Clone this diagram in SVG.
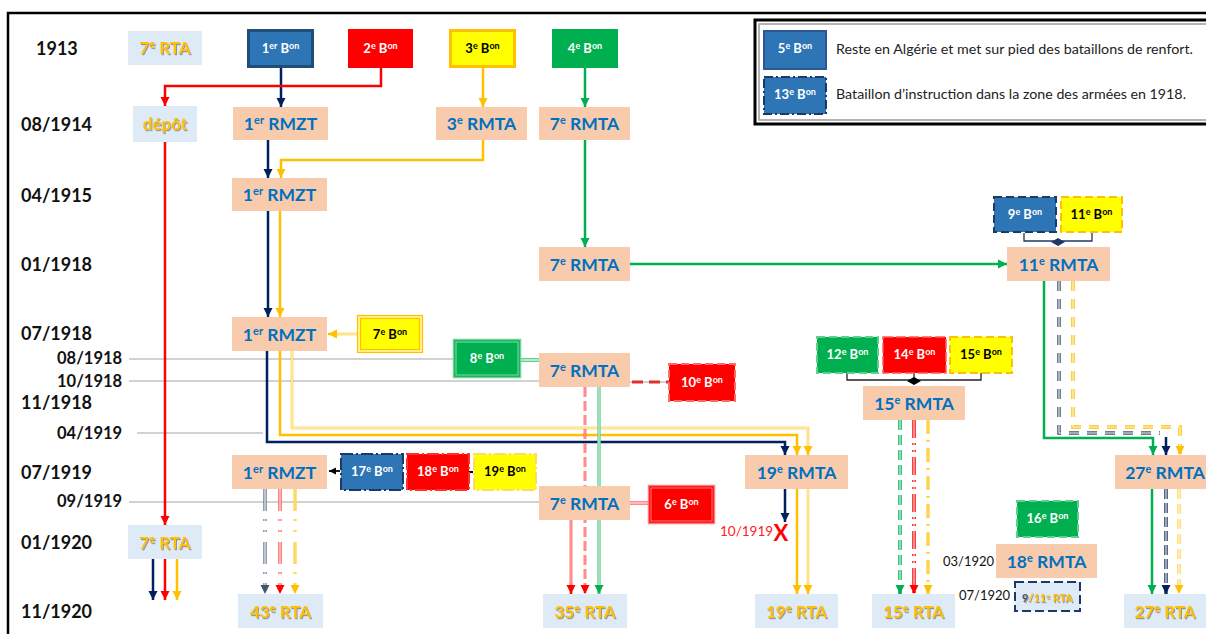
<svg xmlns="http://www.w3.org/2000/svg" width="1206" height="634" viewBox="0 0 1206 634">
<style>
text{font-family:Lato,"Liberation Sans",sans-serif}
.yr{font-size:18px;font-weight:bold;fill:#111}
.yr2{font-size:16.5px;font-weight:bold;fill:#111}
.pe{fill:#F8CBAD}
.lb{fill:#DEEBF7}
.tb{font-size:17.5px;font-weight:bold;fill:#0070C0;text-anchor:middle}
.to{font-size:17px;font-weight:bold;fill:#FFC000;text-anchor:middle}
.bw{font-size:13px;font-weight:bold;fill:#fff;text-anchor:middle}
.bb{font-size:13px;font-weight:bold;fill:#000;text-anchor:middle}
.s1{font-size:11px}
.s2{font-size:9px}
.gl{stroke:#A6A6A6;stroke-width:1.2;fill:none}
.c{fill:none;stroke-width:2.5}
.nv{stroke:#002060}
.sl{stroke:#44546A}
.rd{stroke:#FF0000}
.or{stroke:#FFC000}
.gr{stroke:#00B050}
.w{fill:none;stroke:#fff;stroke-width:1.1}
.wy{fill:none;stroke:#FFF2CC;stroke-width:1.4}
.blue{fill:#2E75B6}
.red{fill:#FF0000}
.yel{fill:#FFFF00}
.grn{fill:#00B050}
.sm{font-size:13px;fill:#111}
.lg{font-size:13px;fill:#222}
</style>
<defs>
<filter id="sh" x="-10%" y="-10%" width="120%" height="130%"><feDropShadow dx="1" dy="1.2" stdDeviation="0.6" flood-color="#6F6F6F" flood-opacity="0.7"/></filter>
<marker id="mN" markerUnits="userSpaceOnUse" markerWidth="10" markerHeight="10" refX="9" refY="5" orient="auto" viewBox="0 0 10 10"><path d="M0,0.5 L9,5 L0,9.5 z" fill="#002060"/></marker>
<marker id="mS" markerUnits="userSpaceOnUse" markerWidth="10" markerHeight="10" refX="9" refY="5" orient="auto" viewBox="0 0 10 10"><path d="M0,0.5 L9,5 L0,9.5 z" fill="#44546A"/></marker>
<marker id="mR" markerUnits="userSpaceOnUse" markerWidth="10" markerHeight="10" refX="9" refY="5" orient="auto" viewBox="0 0 10 10"><path d="M0,0.5 L9,5 L0,9.5 z" fill="#FF0000"/></marker>
<marker id="mO" markerUnits="userSpaceOnUse" markerWidth="10" markerHeight="10" refX="9" refY="5" orient="auto" viewBox="0 0 10 10"><path d="M0,0.5 L9,5 L0,9.5 z" fill="#FFC000"/></marker>
<marker id="mG" markerUnits="userSpaceOnUse" markerWidth="10" markerHeight="10" refX="9" refY="5" orient="auto" viewBox="0 0 10 10"><path d="M0,0.5 L9,5 L0,9.5 z" fill="#00B050"/></marker>
<marker id="mK" markerUnits="userSpaceOnUse" markerWidth="8" markerHeight="8" refX="7" refY="4" orient="auto" viewBox="0 0 8 8"><path d="M0,0.5 L7,4 L0,7.5 z" fill="#000"/></marker>
</defs>
<rect width="1206" height="634" fill="#fff"/>
<rect x="8" y="13" width="1230" height="650" fill="none" stroke="#000" stroke-width="2.5"/>

<g id="timeline">
<text class="yr" x="36" y="55">1913</text>
<text class="yr" x="21" y="131">08/1914</text>
<text class="yr" x="21" y="202">04/1915</text>
<text class="yr" x="21" y="271">01/1918</text>
<text class="yr" x="21" y="340">07/1918</text>
<text class="yr2" x="57" y="364">08/1918</text>
<text class="yr2" x="57" y="387">10/1918</text>
<text class="yr" x="21" y="409">11/1918</text>
<text class="yr2" x="57" y="439">04/1919</text>
<text class="yr" x="21" y="479">07/1919</text>
<text class="yr2" x="57" y="507">09/1919</text>
<text class="yr" x="21" y="549">01/1920</text>
<text class="yr" x="21" y="618">11/1920</text>
<path class="gl" d="M129,359 H453"/>
<path class="gl" d="M129,381 H539"/>
<path class="gl" d="M137,433 H263"/>
<path class="gl" d="M129,502 H539"/>
</g>

<g id="legend">
<rect x="755" y="20" width="470" height="104" fill="#fff" stroke="#000" stroke-width="3"/>
<rect x="759" y="24" width="470" height="96" fill="none" stroke="#9A9A9A" stroke-width="1.5"/>
<g id="n-bon5"><rect x="764" y="31" width="62" height="38" class="blue" stroke="#2F5597" stroke-width="2"/>
<text class="bw" x="795" y="53">5<tspan class="s2" dy="-4.5">e</tspan><tspan dy="4.5"> B</tspan><tspan class="s2" dy="-4.5">on</tspan></text></g>
<text class="lg" x="836" y="54" textLength="357" lengthAdjust="spacingAndGlyphs">Reste en Algérie et met sur pied des bataillons de renfort.</text>
<g id="n-bon13"><rect x="764" y="77" width="62" height="37" class="blue" stroke="#1F3864" stroke-width="2" stroke-dasharray="9 3 2 3"/>
<text class="bw" x="795" y="99">13<tspan class="s2" dy="-4.5">e</tspan><tspan dy="4.5"> B</tspan><tspan class="s2" dy="-4.5">on</tspan></text></g>
<text class="lg" x="836" y="99" textLength="350" lengthAdjust="spacingAndGlyphs">Bataillon d’instruction dans la zone des armées en 1918.</text>
</g>

<g id="connectors">
<path class="c nv" d="M281,68 V107" marker-end="url(#mN)"/>
<path class="c rd" d="M381,68 V86 H165 V106" marker-end="url(#mR)"/>
<path class="c or" d="M483,68 V107" marker-end="url(#mO)"/>
<path class="c gr" d="M585,68 V107" marker-end="url(#mG)"/>
<path class="c rd" d="M165,142 V525" marker-end="url(#mR)"/>
<path class="c nv" d="M268,140 V178" marker-end="url(#mN)"/>
<path class="c or" d="M483,140 V160 H281 V178" marker-end="url(#mO)"/>
<path class="c nv" d="M268,211 V317" marker-end="url(#mN)"/>
<path class="c or" d="M280,211 V317" marker-end="url(#mO)"/>
<path class="c gr" d="M585,140 V247" marker-end="url(#mG)"/>
<path class="c gr" d="M630,264 H1007" marker-end="url(#mG)"/>
<path class="c or" stroke-width="4" d="M357,334 H328" marker-end="url(#mO)"/>
<path class="wy" d="M357,334 H337"/>
<path fill="none" stroke="#5FCF8F" stroke-width="4" d="M521,360 H539"/>
<path class="w" d="M521,360 H539"/>
<path class="gl" d="M630,382 H669"/>
<path fill="none" stroke="#E03030" stroke-width="3" stroke-dasharray="11 6" d="M632,382 H669"/>
<path class="c nv" d="M267,351 V442 H785 V455" marker-end="url(#mN)"/>
<path class="c or" d="M280,351 V435 H797 V455" marker-end="url(#mO)"/>
<path class="c or" stroke-width="4" d="M292,351 V428 H808 V455" marker-end="url(#mO)"/>
<path class="wy" d="M292,351 V428 H808 V446"/>
<path class="c rd" stroke-width="3.5" stroke-dasharray="10 4" d="M585,387 V594" marker-end="url(#mR)"/>
<path class="w" stroke-dasharray="10 4" d="M585,387 V585"/>
<path fill="none" stroke="#6FD398" stroke-width="3.5" d="M599,387 V594" marker-end="url(#mG)"/>
<path fill="none" stroke="#C9F0D7" stroke-width="1" d="M599,387 V585"/>
<path class="c rd" stroke-width="3.5" d="M571,520 V594" marker-end="url(#mR)"/>
<path class="w" d="M571,520 V585"/>
<path fill="none" stroke="#FF6060" stroke-width="3.5" d="M648,503 H630"/>
<path class="w" d="M648,503 H630"/>
<path class="c nv" d="M785,489 V522" marker-end="url(#mN)"/>
<path class="c or" d="M797,489 V594" marker-end="url(#mO)"/>
<path class="c or" stroke-width="4" d="M808,489 V594" marker-end="url(#mO)"/>
<path class="wy" d="M808,489 V585"/>
<path fill="none" stroke="#6F7F99" stroke-width="3.5" stroke-dasharray="22 8 2 9 2 10" d="M265,489 V594" marker-end="url(#mS)"/>
<path class="w" stroke-dasharray="22 8 2 9 2 10" d="M265,489 V585"/>
<path fill="none" stroke="#FF5A5A" stroke-width="3.5" stroke-dasharray="22 8 2 9 2 10" d="M280,489 V594" marker-end="url(#mR)"/>
<path class="w" stroke-dasharray="22 8 2 9 2 10" d="M280,489 V585"/>
<path fill="none" stroke="#FFD966" stroke-width="3.5" stroke-dasharray="22 8 2 9 2 10" d="M295,489 V594" marker-end="url(#mO)"/>
<path class="c nv" d="M153,559 V600" marker-end="url(#mN)"/>
<path class="c rd" d="M165,559 V600" marker-end="url(#mR)"/>
<path class="c or" d="M177,559 V600" marker-end="url(#mO)"/>
<path class="c gr" d="M1044,281 V438 H1153 V455" marker-end="url(#mG)"/>
<path fill="none" stroke="#44546A" stroke-width="3.5" stroke-dasharray="10 8" d="M1059,281 V433 H1160"/>
<path class="w" stroke-dasharray="10 8" d="M1059,281 V433 H1160"/>
<path class="c nv" d="M1166,437 V455" marker-end="url(#mN)"/>
<path fill="none" stroke="#FFC000" stroke-width="3.5" stroke-dasharray="10 8" d="M1073,281 V427 H1180 V455" marker-end="url(#mO)"/>
<path class="w" stroke-dasharray="10 8" d="M1073,281 V427 H1180 V446"/>
<path fill="none" stroke="#00B050" stroke-width="3.5" stroke-dasharray="10 5" d="M900,420 V594" marker-end="url(#mG)"/>
<path class="w" stroke-dasharray="10 5" d="M900,420 V585"/>
<path fill="none" stroke="#FF0000" stroke-width="3.5" stroke-dasharray="18 5 2 5 2 5" d="M914,420 V594" marker-end="url(#mR)"/>
<path class="w" stroke-dasharray="18 5 2 5 2 5" d="M914,420 V585"/>
<path fill="none" stroke="#FFD54F" stroke-width="3.5" stroke-dasharray="14 6 2 6" d="M928,420 V594" marker-end="url(#mO)"/>
<path class="c gr" d="M1152,489 V594" marker-end="url(#mG)"/>
<path fill="none" stroke="#1F3864" stroke-width="3.5" stroke-dasharray="10 4" d="M1166,489 V594" marker-end="url(#mN)"/>
<path class="w" stroke-dasharray="10 4" d="M1166,489 V585"/>
<path fill="none" stroke="#FFD54F" stroke-width="3.5" stroke-dasharray="10 5" d="M1179,489 V594" marker-end="url(#mO)"/>
<path class="w" stroke-dasharray="10 5" d="M1179,489 V585"/>
<path fill="none" stroke="#000" stroke-width="1.8" d="M340,471 H329" marker-end="url(#mK)"/>
<path fill="none" stroke="#000" stroke-width="2" d="M469,472 H473"/>
<path fill="none" stroke="#203864" stroke-width="1.3" d="M1024,233 V241 H1092 V233"/>
<path d="M1051,242 L1058,238 L1065,242 L1058,246 z" fill="#203864"/>
<path fill="none" stroke="#222" stroke-width="1.3" d="M847,373 V380 H981 V373 M914,373 V380"/>
<path d="M907,381 L914,377 L921,381 L914,385 z" fill="#000"/>
<text x="720" y="536" font-size="13.5" fill="#FF2020">10/1919</text>
<text x="781" y="541" font-size="22" font-weight="bold" fill="#FF0000" text-anchor="middle" font-family="Liberation Sans,sans-serif">X</text>
<text class="sm" x="943" y="566">03/1920</text>
<text class="sm" x="959" y="600">07/1920</text>
</g>

<g id="n-rta7-1913"><rect x="128" y="31" width="74" height="34" class="lb"/>
<text class="to" filter="url(#sh)" x="165" y="54">7<tspan class="s1" dy="-6">e</tspan><tspan dy="6"> RTA</tspan></text></g>
<g id="n-bon1"><rect x="248.5" y="30.5" width="64" height="36" class="blue" stroke="#1F4E79" stroke-width="3"/>
<text class="bw" x="280.5" y="53">1<tspan class="s2" dy="-4.5">er</tspan><tspan dy="4.5"> B</tspan><tspan class="s2" dy="-4.5">on</tspan></text></g>
<g id="n-bon2"><rect x="348" y="29" width="65" height="39" class="red"/>
<text class="bw" x="380.5" y="53">2<tspan class="s2" dy="-4.5">e</tspan><tspan dy="4.5"> B</tspan><tspan class="s2" dy="-4.5">on</tspan></text></g>
<g id="n-bon3"><rect x="450.5" y="30.5" width="64" height="36" class="yel" stroke="#FFC000" stroke-width="3"/>
<text class="bb" x="482.5" y="53">3<tspan class="s2" dy="-4.5">e</tspan><tspan dy="4.5"> B</tspan><tspan class="s2" dy="-4.5">on</tspan></text></g>
<g id="n-bon4"><rect x="552" y="29" width="66" height="39" class="grn"/>
<text class="bw" x="585" y="53">4<tspan class="s2" dy="-4.5">e</tspan><tspan dy="4.5"> B</tspan><tspan class="s2" dy="-4.5">on</tspan></text></g>

<g id="n-depot"><rect x="133" y="106" width="64" height="36" class="lb"/>
<text class="to" filter="url(#sh)" x="165" y="130">dépôt</text></g>
<g id="n-rmzt1-1914"><rect x="233" y="107" width="95" height="33" class="pe"/>
<text class="tb" x="280.5" y="130">1<tspan class="s1" dy="-6">er</tspan><tspan dy="6"> RMZT</tspan></text></g>
<g id="n-rmta3"><rect x="436" y="107" width="91" height="33" class="pe"/>
<text class="tb" x="481.5" y="130">3<tspan class="s1" dy="-6">e</tspan><tspan dy="6"> RMTA</tspan></text></g>
<g id="n-rmta7-1914"><rect x="539" y="107" width="91" height="33" class="pe"/>
<text class="tb" x="584.5" y="130">7<tspan class="s1" dy="-6">e</tspan><tspan dy="6"> RMTA</tspan></text></g>

<g id="n-rmzt1-1915"><rect x="232" y="178" width="95" height="33" class="pe"/>
<text class="tb" x="279.5" y="201">1<tspan class="s1" dy="-6">er</tspan><tspan dy="6"> RMZT</tspan></text></g>

<g id="n-rmta7-1918"><rect x="539" y="247" width="91" height="34" class="pe"/>
<text class="tb" x="584.5" y="271">7<tspan class="s1" dy="-6">e</tspan><tspan dy="6"> RMTA</tspan></text></g>
<g id="n-bon9"><rect x="994" y="197" width="62" height="35" class="blue" stroke="#203864" stroke-width="2" stroke-dasharray="8 4"/>
<text class="bw" x="1025" y="219">9<tspan class="s2" dy="-4.5">e</tspan><tspan dy="4.5"> B</tspan><tspan class="s2" dy="-4.5">on</tspan></text></g>
<g id="n-bon11"><rect x="1061" y="197" width="61" height="35" class="yel" stroke="#FFC000" stroke-width="2" stroke-dasharray="8 4"/>
<text class="bb" x="1091.5" y="219">11<tspan class="s2" dy="-4.5">e</tspan><tspan dy="4.5"> B</tspan><tspan class="s2" dy="-4.5">on</tspan></text></g>
<g id="n-rmta11"><rect x="1007" y="247" width="103" height="34" class="pe"/>
<text class="tb" x="1058.5" y="271">11<tspan class="s1" dy="-6">e</tspan><tspan dy="6"> RMTA</tspan></text></g>

<g id="n-rmzt1-1918"><rect x="232" y="317" width="95" height="34" class="pe"/>
<text class="tb" x="279.5" y="341">1<tspan class="s1" dy="-6">er</tspan><tspan dy="6"> RMZT</tspan></text></g>
<g id="n-bon7"><rect x="357.5" y="315.5" width="65" height="37" fill="#FFF59A" stroke="#FFC000" stroke-width="1.2"/>
<rect x="360.5" y="318.5" width="59" height="31" class="yel" stroke="#FFC000" stroke-width="1.2"/>
<text class="bb" x="390" y="339">7<tspan class="s2" dy="-4.5">e</tspan><tspan dy="4.5"> B</tspan><tspan class="s2" dy="-4.5">on</tspan></text></g>
<g id="n-bon8"><rect x="453.5" y="339.5" width="67" height="38" class="grn" stroke="#6FD398" stroke-width="1.5"/>
<rect x="456" y="342" width="62" height="33" fill="none" stroke="#A8E6C0" stroke-width="0.8"/>
<text class="bw" x="487" y="363">8<tspan class="s2" dy="-4.5">e</tspan><tspan dy="4.5"> B</tspan><tspan class="s2" dy="-4.5">on</tspan></text></g>
<g id="n-rmta7-1918b"><rect x="539" y="353" width="91" height="34" class="pe"/>
<text class="tb" x="584.5" y="377">7<tspan class="s1" dy="-6">e</tspan><tspan dy="6"> RMTA</tspan></text></g>
<g id="n-bon10"><rect x="669" y="364" width="66" height="37" class="red" stroke="#FF6A6A" stroke-width="2" stroke-dasharray="8 4"/>
<text class="bw" x="702" y="387">10<tspan class="s2" dy="-4.5">e</tspan><tspan dy="4.5"> B</tspan><tspan class="s2" dy="-4.5">on</tspan></text></g>

<g id="n-bon12"><rect x="817" y="337" width="61" height="36" class="grn" stroke="#5FCF8F" stroke-width="2" stroke-dasharray="8 4"/>
<text class="bw" x="847.5" y="359">12<tspan class="s2" dy="-4.5">e</tspan><tspan dy="4.5"> B</tspan><tspan class="s2" dy="-4.5">on</tspan></text></g>
<g id="n-bon14"><rect x="883" y="337" width="63" height="36" class="red" stroke="#FF5A5A" stroke-width="1.5" stroke-dasharray="10 3"/>
<text class="bw" x="914.5" y="359">14<tspan class="s2" dy="-4.5">e</tspan><tspan dy="4.5"> B</tspan><tspan class="s2" dy="-4.5">on</tspan></text></g>
<g id="n-bon15"><rect x="950" y="337" width="62" height="36" class="yel" stroke="#FFC000" stroke-width="2" stroke-dasharray="8 4"/>
<text class="bb" x="981" y="359">15<tspan class="s2" dy="-4.5">e</tspan><tspan dy="4.5"> B</tspan><tspan class="s2" dy="-4.5">on</tspan></text></g>
<g id="n-rmta15"><rect x="863" y="386" width="102" height="34" class="pe"/>
<text class="tb" x="914" y="410">15<tspan class="s1" dy="-6">e</tspan><tspan dy="6"> RMTA</tspan></text></g>

<g id="n-rmzt1-1919"><rect x="232" y="455" width="95" height="34" class="pe"/>
<text class="tb" x="279.5" y="479">1<tspan class="s1" dy="-6">er</tspan><tspan dy="6"> RMZT</tspan></text></g>
<g id="n-bon17"><rect x="341" y="454" width="62" height="36" class="blue" stroke="#1F3864" stroke-width="2" stroke-dasharray="12 3 2 3"/>
<text class="bw" x="372" y="476">17<tspan class="s2" dy="-4.5">e</tspan><tspan dy="4.5"> B</tspan><tspan class="s2" dy="-4.5">on</tspan></text></g>
<g id="n-bon18"><rect x="407" y="454" width="62" height="36" class="red" stroke="#FF3030" stroke-width="2" stroke-dasharray="12 3 2 3"/>
<text class="bw" x="438" y="476">18<tspan class="s2" dy="-4.5">e</tspan><tspan dy="4.5"> B</tspan><tspan class="s2" dy="-4.5">on</tspan></text></g>
<g id="n-bon19"><rect x="474" y="454" width="62" height="36" class="yel" stroke="#FFD966" stroke-width="2" stroke-dasharray="12 3 2 3"/>
<text class="bb" x="505" y="476">19<tspan class="s2" dy="-4.5">e</tspan><tspan dy="4.5"> B</tspan><tspan class="s2" dy="-4.5">on</tspan></text></g>
<g id="n-rmta19"><rect x="745" y="455" width="103" height="34" class="pe"/>
<text class="tb" x="796.5" y="479">19<tspan class="s1" dy="-6">e</tspan><tspan dy="6"> RMTA</tspan></text></g>
<g id="n-rmta27"><rect x="1115" y="455" width="100" height="34" class="pe"/>
<text class="tb" x="1165" y="479">27<tspan class="s1" dy="-6">e</tspan><tspan dy="6"> RMTA</tspan></text></g>

<g id="n-rmta7-1919"><rect x="539" y="486" width="91" height="34" class="pe"/>
<text class="tb" x="584.5" y="510">7<tspan class="s1" dy="-6">e</tspan><tspan dy="6"> RMTA</tspan></text></g>
<g id="n-bon6"><rect x="648.5" y="485.5" width="66" height="38" class="red" stroke="#FF7C80" stroke-width="1.5"/>
<rect x="651" y="488" width="61" height="33" fill="none" stroke="#FF9A9A" stroke-width="0.8"/>
<text class="bw" x="681.5" y="509">6<tspan class="s2" dy="-4.5">e</tspan><tspan dy="4.5"> B</tspan><tspan class="s2" dy="-4.5">on</tspan></text></g>

<g id="n-rta7-1920"><rect x="128" y="525" width="74" height="34" class="lb"/>
<text class="to" filter="url(#sh)" x="165" y="549">7<tspan class="s1" dy="-6">e</tspan><tspan dy="6"> RTA</tspan></text></g>
<g id="n-bon16"><rect x="1017" y="501" width="61" height="36" class="grn" stroke="#5FCF8F" stroke-width="2" stroke-dasharray="8 4"/>
<text class="bw" x="1047.5" y="523">16<tspan class="s2" dy="-4.5">e</tspan><tspan dy="4.5"> B</tspan><tspan class="s2" dy="-4.5">on</tspan></text></g>
<g id="n-rmta18"><rect x="996" y="544" width="101" height="34" class="pe"/>
<text class="tb" x="1046.5" y="568">18<tspan class="s1" dy="-6">e</tspan><tspan dy="6"> RMTA</tspan></text></g>
<g id="n-rta9-11"><rect x="1015" y="582" width="65" height="29" class="lb" stroke="#203864" stroke-width="2" stroke-dasharray="9 4"/>
<text x="1047.5" y="602" font-size="11" font-weight="bold" text-anchor="middle" filter="url(#sh)"><tspan fill="#44546A">9</tspan><tspan fill="#FFC000">/11<tspan font-size="7" dy="-3.5">e</tspan><tspan dy="3.5"> RTA</tspan></tspan></text></g>

<g id="n-rta43"><rect x="238" y="594" width="85" height="34" class="lb"/>
<text class="to" filter="url(#sh)" x="280.5" y="618">43<tspan class="s1" dy="-6">e</tspan><tspan dy="6"> RTA</tspan></text></g>
<g id="n-rta35"><rect x="543" y="594" width="84" height="34" class="lb"/>
<text class="to" filter="url(#sh)" x="585" y="618">35<tspan class="s1" dy="-6">e</tspan><tspan dy="6"> RTA</tspan></text></g>
<g id="n-rta19"><rect x="755" y="594" width="83" height="34" class="lb"/>
<text class="to" filter="url(#sh)" x="796.5" y="618">19<tspan class="s1" dy="-6">e</tspan><tspan dy="6"> RTA</tspan></text></g>
<g id="n-rta15"><rect x="872" y="594" width="83" height="34" class="lb"/>
<text class="to" filter="url(#sh)" x="913.5" y="618">15<tspan class="s1" dy="-6">e</tspan><tspan dy="6"> RTA</tspan></text></g>
<g id="n-rta27"><rect x="1124" y="594" width="90" height="34" class="lb"/>
<text class="to" filter="url(#sh)" x="1165" y="618">27<tspan class="s1" dy="-6">e</tspan><tspan dy="6"> RTA</tspan></text></g>
</svg>
